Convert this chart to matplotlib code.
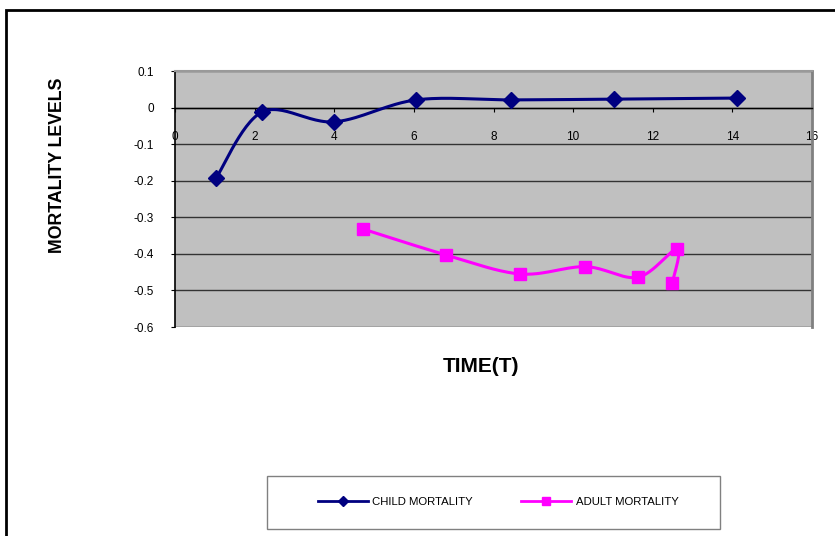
import numpy as np
import matplotlib.pyplot as plt
from matplotlib.lines import Line2D
from matplotlib.patches import Rectangle

plt.rcParams['font.family'] = ['Liberation Sans', 'DejaVu Sans']

# series values
child_t = [1.03, 2.19, 4.0, 6.06, 8.44, 11.03, 14.12]
child_m = [-0.193, -0.012, -0.039, 0.021, 0.021, 0.023, 0.026]
adult_t = [4.72, 6.81, 8.67, 10.31, 11.63, 12.61, 12.49]
adult_m = [-0.332, -0.403, -0.455, -0.435, -0.464, -0.387, -0.479]

x_ticks = [0, 2, 4, 6, 8, 10, 12, 14, 16]
y_ticks = [-0.6, -0.5, -0.4, -0.3, -0.2, -0.1, 0, 0.1]

NAVY = '#000080'
MAGENTA = '#FF00FF'


def smooth(xs, ys, n=30):
    # Catmull-Rom style bezier through the points (like a "smoothed line")
    x = np.asarray(xs, float)
    y = np.asarray(ys, float)
    px = np.concatenate([[x[0]], x, [x[-1]]])
    py = np.concatenate([[y[0]], y, [y[-1]]])
    out_x, out_y = [], []
    t = np.linspace(0, 1, n)
    for i in range(1, len(px) - 2):
        p0 = np.array([px[i], py[i]])
        p3 = np.array([px[i + 1], py[i + 1]])
        p1 = p0 + (np.array([px[i + 1], py[i + 1]]) - np.array([px[i - 1], py[i - 1]])) / 6
        p2 = p3 - (np.array([px[i + 2], py[i + 2]]) - np.array([px[i], py[i]])) / 6
        b = ((1 - t) ** 3)[:, None] * p0 + (3 * (1 - t) ** 2 * t)[:, None] * p1 \
            + (3 * (1 - t) * t ** 2)[:, None] * p2 + (t ** 3)[:, None] * p3
        out_x.extend(b[:, 0])
        out_y.extend(b[:, 1])
    return out_x, out_y


fig = plt.figure(figsize=(8.35, 5.36), dpi=100)
W, H = 835, 536
ax = fig.add_axes([175 / W, 1 - 327 / H, (812 - 175) / W, (327 - 71) / H])
ax.set_facecolor('#C0C0C0')

ax.set_xlim(0, 16)
ax.set_ylim(-0.6, 0.1)
ax.set_xticks(x_ticks)
ax.set_yticks(y_ticks)
ax.set_yticklabels(['-0.6', '-0.5', '-0.4', '-0.3', '-0.2', '-0.1', '0', '0.1'])
ax.yaxis.grid(True, color='#333333', linewidth=1)
ax.set_axisbelow(True)

ax.spines['bottom'].set_position(('data', 0))
ax.spines['bottom'].set_color('black')
ax.spines['bottom'].set_linewidth(1)
ax.spines['left'].set_color('black')
ax.spines['left'].set_linewidth(1.2)
ax.spines['top'].set_color('#999999')
ax.spines['top'].set_linewidth(1.5)
ax.spines['right'].set_color('#808080')
ax.spines['right'].set_linewidth(2)

ax.tick_params(axis='x', direction='out', length=3, width=0.8, pad=14,
               labelsize=8.5, colors='black')
ax.tick_params(axis='y', direction='out', length=3, width=0.8, pad=12,
               labelsize=8.5)

sx, sy = smooth(child_t, child_m)
ax.plot(sx, sy, color=NAVY, linewidth=2.2, zorder=3)
ax.plot(child_t, child_m, linestyle='none', marker='D', markersize=8,
        color=NAVY, zorder=4)

sx, sy = smooth(adult_t, adult_m)
ax.plot(sx, sy, color=MAGENTA, linewidth=2.2, zorder=3)
ax.plot(adult_t, adult_m, linestyle='none', marker='s', markersize=9,
        color=MAGENTA, zorder=4)

fig.text(57.5 / W, 1 - 165 / H, 'MORTALITY LEVELS', rotation=90, fontsize=12.8,
         fontweight='bold', ha='center', va='center')
fig.text(481 / W, 1 - 366 / H, 'TIME(T)', fontsize=15, fontweight='bold',
         ha='center', va='center')

# legend box drawn separately so it can be wider than the entries need
fig.patches.append(Rectangle((267 / W, 1 - 529 / H), (720 - 267) / W, 53 / H,
                             transform=fig.transFigure, facecolor='white',
                             edgecolor='#808080', linewidth=1))
handles = [
    Line2D([], [], color=NAVY, linewidth=2, marker='D', markersize=5),
    Line2D([], [], color=MAGENTA, linewidth=2, marker='s', markersize=6),
]
fig.legend(handles, ['CHILD MORTALITY', 'ADULT MORTALITY'], ncol=2,
           loc='center', bbox_to_anchor=(498 / W, 1 - 502 / H),
           fontsize=8.2, frameon=False, handlelength=4.4,
           columnspacing=4.2, handletextpad=0.4, borderaxespad=0)

# outer chart border
fig.patches.append(Rectangle((6 / W, -0.1), 1.2, 1 - 10 / H + 0.1,
                             transform=fig.transFigure, fill=False,
                             edgecolor='black', linewidth=2))

fig.savefig('out.png', dpi=100)
